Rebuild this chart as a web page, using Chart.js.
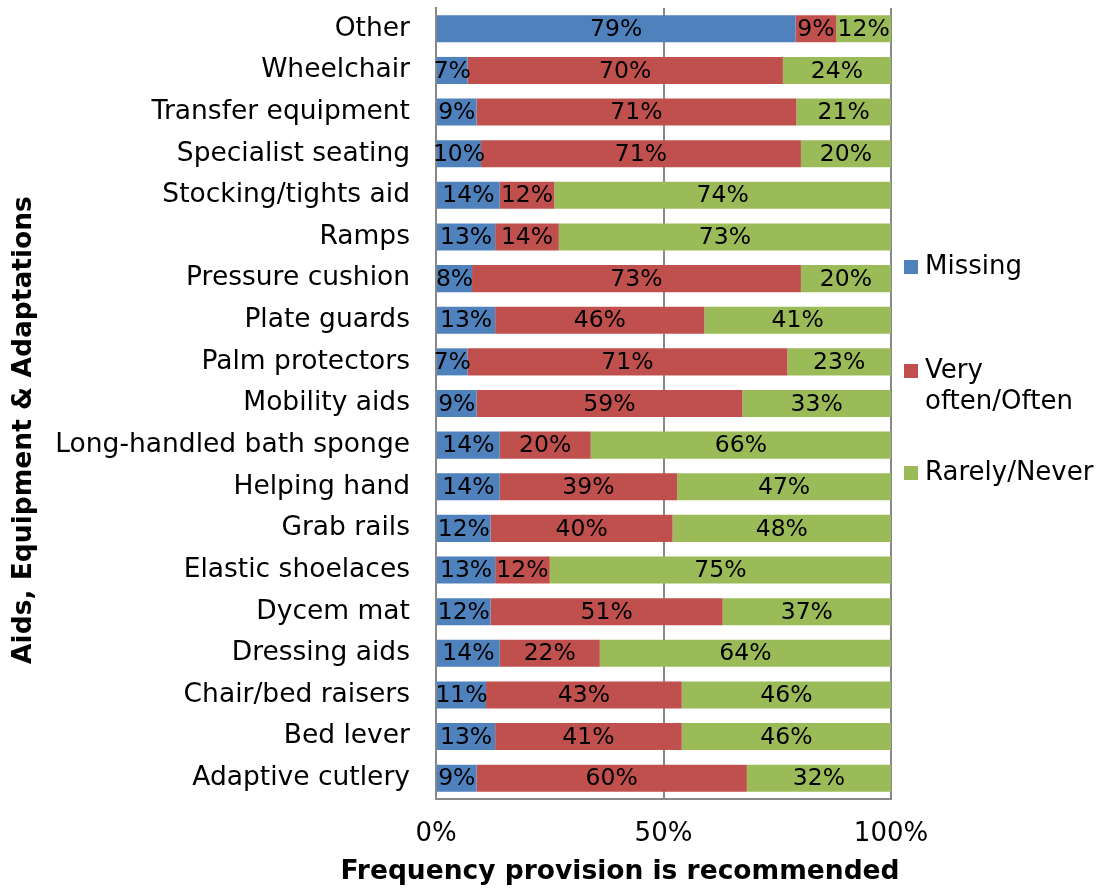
<!DOCTYPE html>
<html>
<head>
<meta charset="utf-8">
<script src="https://cdn.jsdelivr.net/npm/chart.js@4"></script>
<style>
  body { margin: 0; background: #fff; }
  canvas { display: block; }
</style>
</head>
<body>
<canvas id="chart" width="1112" height="889"></canvas>
<script>
// Categories, top to bottom
const categories = [
    'Other', 'Wheelchair', 'Transfer equipment', 'Specialist seating',
    'Stocking/tights aid', 'Ramps', 'Pressure cushion', 'Plate guards',
    'Palm protectors', 'Mobility aids', 'Long-handled bath sponge',
    'Helping hand', 'Grab rails', 'Elastic shoelaces', 'Dycem mat',
    'Dressing aids', 'Chair/bed raisers', 'Bed lever', 'Adaptive cutlery'
];

// Percentages as printed on the bars
const missing   = [79, 7, 9, 10, 14, 13, 8, 13, 7, 9, 14, 14, 12, 13, 12, 14, 11, 13, 9];
const veryOften = [9, 70, 71, 71, 12, 14, 73, 46, 71, 59, 20, 39, 40, 12, 51, 22, 43, 41, 60];
const rarely    = [12, 24, 21, 20, 74, 73, 20, 41, 23, 33, 66, 47, 48, 75, 37, 64, 46, 46, 32];

const seriesNames = ['Missing', 'Very often/Often', 'Rarely/Never'];
const seriesColors = ['#4F81BD', '#C0504D', '#9BBB59'];
const xTicks = [0, 50, 100];

const xTitle = 'Frequency provision is recommended';
const yTitle = 'Aids, Equipment & Adaptations';

const FONT = '"DejaVu Sans", Verdana, sans-serif';

// 100% stacked: scale each row to its own total
const rawSeries = [missing, veryOften, rarely];
const totals = categories.map((_, i) => missing[i] + veryOften[i] + rarely[i]);
const toShare = arr => arr.map((v, i) => v * 100 / totals[i]);

// Labels centred in each segment (small ones spill over, like the original)
const segmentLabels = {
    id: 'segmentLabels',
    afterDatasetsDraw(chart) {
        const ctx = chart.ctx;
        ctx.save();
        ctx.font = '23.5px ' + FONT;
        ctx.fillStyle = '#000';
        ctx.textAlign = 'center';
        ctx.textBaseline = 'middle';
        chart.data.datasets.forEach((ds, d) => {
            chart.getDatasetMeta(d).data.forEach((bar, i) => {
                const cx = (bar.x + bar.base) / 2;
                ctx.fillText(rawSeries[d][i] + '%', cx, bar.y + 1);
            });
        });
        ctx.restore();
    }
};

// Legend on the right (middle entry wraps) and the two axis titles,
// drawn by hand so they are not squeezed to the plot width
const extras = {
    id: 'extras',
    afterDraw(chart) {
        const ctx = chart.ctx;
        const entries = [
            { lines: ['Missing'], y: 267 },
            { lines: ['Very', 'often/Often'], y: 371 },
            { lines: ['Rarely/Never'], y: 473 }
        ];
        ctx.save();
        ctx.font = '26px ' + FONT;
        ctx.textBaseline = 'middle';
        ctx.textAlign = 'left';
        entries.forEach((e, k) => {
            ctx.fillStyle = seriesColors[k];
            ctx.fillRect(904, e.y - 7, 14, 14);
            ctx.fillStyle = '#000';
            e.lines.forEach((line, j) => {
                ctx.fillText(line, 925, e.y + j * 31);
            });
        });

        ctx.font = 'bold 26.5px ' + FONT;
        ctx.textAlign = 'center';
        ctx.fillText(xTitle, 620, 872);

        ctx.translate(24, 430);
        ctx.rotate(-Math.PI / 2);
        ctx.fillText(yTitle, 0, 0);
        ctx.restore();
    }
};

new Chart(document.getElementById('chart'), {
    type: 'bar',
    data: {
        labels: categories,
        datasets: rawSeries.map((arr, k) => ({
            label: seriesNames[k],
            data: toShare(arr),
            backgroundColor: seriesColors[k],
            borderWidth: 0,
            barPercentage: 0.65,
            categoryPercentage: 1
        }))
    },
    options: {
        indexAxis: 'y',
        responsive: false,
        animation: false,
        devicePixelRatio: 1,
        layout: { padding: { top: 8, right: 221, left: 0, bottom: 0 } },
        plugins: {
            legend: { display: false },
            tooltip: { enabled: false }
        },
        scales: {
            x: {
                stacked: true,
                min: 0,
                max: 100,
                afterBuildTicks: scale => {
                    scale.ticks = xTicks.map(v => ({ value: v }));
                },
                afterFit: scale => {
                    scale.height = 90;
                    scale.paddingLeft = 0;
                    scale.paddingRight = 0;
                },
                grid: { color: '#888', lineWidth: 2, drawTicks: false },
                border: { display: true, color: '#888', width: 2 },
                ticks: {
                    color: '#000',
                    padding: 20,
                    font: { family: FONT, size: 26 },
                    callback: v => v + '%'
                }
            },
            y: {
                stacked: true,
                afterFit: scale => {
                    scale.width = 436;
                    scale.paddingTop = 0;
                    scale.paddingBottom = 0;
                },
                grid: { display: false, drawTicks: false },
                border: { display: true, color: '#888', width: 2 },
                ticks: {
                    color: '#000',
                    padding: 26,
                    autoSkip: false,
                    font: { family: FONT, size: 26.5 }
                }
            }
        }
    },
    plugins: [segmentLabels, extras]
});
</script>
</body>
</html>
